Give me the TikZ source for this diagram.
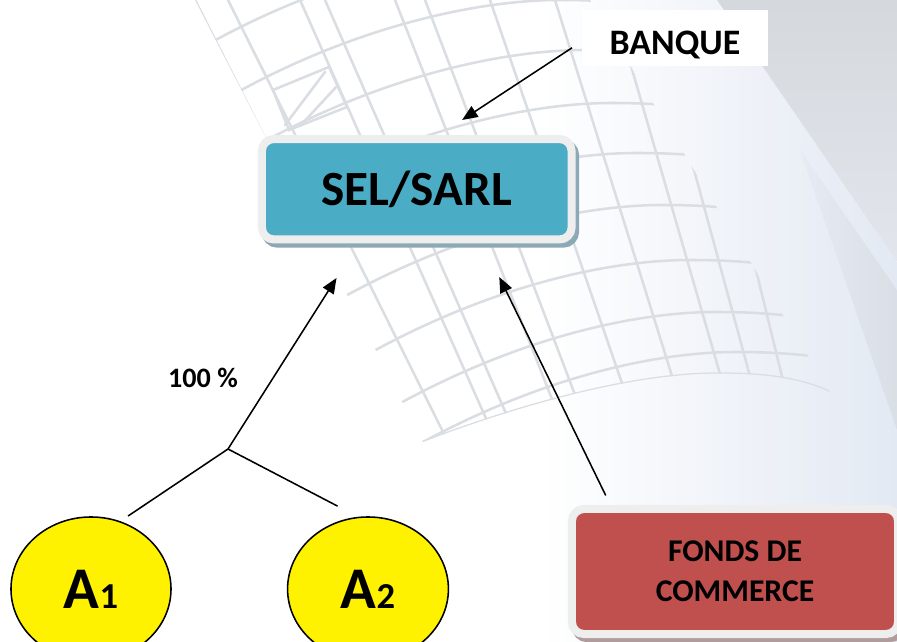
\documentclass[tikz,border=0pt]{standalone}
\usepackage{fontspec}
\setmainfont{Carlito}
\usepackage{tikz}
\usetikzlibrary{arrows.meta,shapes.geometric}
\definecolor{selteal}{HTML}{4BACC6}
\definecolor{fondsred}{HTML}{C0504D}
\definecolor{framegrey}{HTML}{EEEEEE}
\definecolor{selshadow}{HTML}{8DA9B6}
\definecolor{fondsshadow}{HTML}{B09C9C}
\definecolor{gridgrey}{HTML}{DADEE3}
\definecolor{tubegrey}{HTML}{D5D8DD}
\definecolor{tubelight}{HTML}{E2E6EC}
\definecolor{sheetblue}{HTML}{E3E9F3}

\begin{document}
\begin{tikzpicture}[x=0.025cm, y=-0.025cm,
  arr/.style={line width=1.1pt, -{Triangle[length=11pt,width=9pt]}},
  link/.style={line width=1.1pt},
  gridline/.style={line width=1.8pt, gridgrey, line cap=round},
  shadowed/.style={preaction={draw=#1, fill=#1, line width=5.7pt,
      transform canvas={shift={(2.5pt,-3pt)}}}},
  framed/.style={rectangle, rounded corners=8.5pt, line width=5.7pt,
      draw=framegrey, outer sep=0pt},
  bubble/.style={ellipse, draw=black, line width=1.1pt, fill=yellow,
      outer sep=0pt, minimum height=3.6cm}
]
  \useasboundingbox (0,0) rectangle (897,642);
  \fill[white] (0,0) rectangle (897,642);

  % Paper roll in the background
  \shade[left color=white, right color=sheetblue]
    (540,0) -- (717,0) -- (897,262) -- (897,642) -- (540,642) -- cycle;
  \shade[top color=tubegrey, bottom color=tubelight]
    (717,0) -- (897,0) -- (897,262) -- cycle;
  \shade[left color=sheetblue, right color=tubegrey, opacity=0.6]
    (800,150) -- (897,290) -- (897,430) -- cycle;

  % Grid on the sheet
  \begin{scope}
    \clip (195,0) -- (423,442) .. controls (520,405) and (620,378) .. (700,374)
      .. controls (760,372) and (800,378) .. (830,392) -- (590,0) -- cycle;
    \foreach \p in {-50,0,50,103,153,205,260,312,352} {
      \draw[gridline] ({195+0.516*(\p+90)},\p+90)
        .. controls ({315+0.516*(\p+90)},\p+25) and ({480+0.5*\p},\p) .. ({560+0.5*\p},\p)
        .. controls ({630+0.5*\p},\p) and ({690+0.5*\p},\p+8) .. ({740+0.5*\p},\p+35);
    }
    \foreach \xt/\xb in {195/423,228/452,300/500,325/522,395/572,425/596,490/645,555/695,612/742,648/770,690/800} {
      \draw[gridline] (\xt,0) -- (\xb,450);
    }
    \draw[gridline] (423,442) .. controls (520,405) and (620,378) .. (700,374)
      .. controls (760,372) and (800,378) .. (830,392);
  \end{scope}
  \draw[gridline] (273,90) -- (329,67) -- (347,107) -- (289,130) -- cycle;
  \draw[gridline] (285,125) -- (325,72);
  \draw[gridline] (300,126) -- (338,85);

  % Boxes
  \node[fill=white, minimum width=4.65cm, minimum height=1.4cm, text height=1cm,
    text depth=0.15cm, inner sep=0pt, outer sep=0pt,
    font=\bfseries\fontsize{25.5}{25.5}\selectfont] (banque) at (675,38) {BANQUE\hspace{0.45cm}};
  \node[framed, shadowed=selshadow, fill=selteal, minimum width=7.74cm, minimum height=2.51cm,
    font=\bfseries\fontsize{35}{35}\selectfont] (sel) at (416.75,189.25) {SEL/SARL};
  \node[framed, shadowed=fondsshadow, fill=fondsred, minimum width=8.15cm, minimum height=3.125cm,
    align=center, font=\bfseries\fontsize{22.5}{28.5}\selectfont] (fonds) at (735,571.5) {FONDS DE\\COMMERCE};

  % Partners
  \node[bubble, minimum width=4cm, font=\bfseries] (a1) at (91,589)
    {\fontsize{42}{42}\selectfont A{\fontsize{26}{26}\selectfont 1}};
  \node[bubble, minimum width=4.02cm, font=\bfseries] (a2) at (368,589)
    {\fontsize{42}{42}\selectfont A{\fontsize{26}{26}\selectfont 2}};

  \coordinate (jn) at (228,449);
  \node[font=\bfseries\fontsize{20}{20}\selectfont] (pct) at (203,378) {100 \%};

  % Connectors
  \draw[link, shorten >=7.3pt] (jn) -- (a1.67);
  \draw[link, shorten >=17.4pt] (jn) -- (a2.97);
  \draw[arr, shorten >=32.4pt] (jn) -- (sel.222);
  \draw[arr, shorten <=10.7pt, shorten >=29.7pt] (fonds.153) -- (sel.322);
  \draw[arr, shorten <=8.5pt, shorten >=24.7pt] (banque.182) -- (sel.72);
\end{tikzpicture}
\end{document}
